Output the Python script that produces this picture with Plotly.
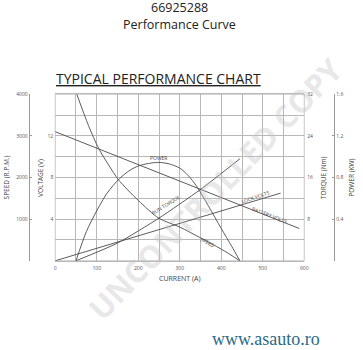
import plotly.graph_objects as go

# ---- data ----
speed_current = [52, 80, 105, 130, 152, 200, 250, 300, 350, 400, 445]
speed_rpm = [4000, 3250, 2690, 2280, 1950, 1450, 1020, 810, 550, 280, 0]

torque_current = [50, 150, 250, 350, 445]
torque_nm = [0, 3.4, 8.2, 13.7, 19.6]

power_current = [50, 75, 100, 125, 155, 180, 200, 225, 250, 275, 300, 320, 340, 370, 400, 425, 445]
power_kw = [0, 0.28, 0.48, 0.65, 0.79, 0.87, 0.91, 0.935, 0.945, 0.93, 0.89, 0.82, 0.72, 0.52, 0.31, 0.14, 0]

battery_current = [0, 588]
battery_volts = [12.4, 3.1]

lock_current = [0, 543]
lock_volts = [0, 6.5]

x_ticks = [0, 100, 200, 300, 400, 500, 600]
speed_ticks = [1000, 2000, 3000, 4000]
volt_ticks = [4, 8, 12]
torque_ticks = [8, 16, 24, 32]
power_ticks = [0.4, 0.8, 1.2, 1.6]

W, H = 363, 350
def px(x):
    return x / W
def py(y):
    return 1 - y / H

LINE = dict(color="#4a4a4a", width=0.9)
GRID = "#b8b8b8"
TICKF = dict(family="Open Sans, sans-serif", size=5, color="#555")

fig = go.Figure()
fig.add_trace(go.Scatter(x=speed_current, y=speed_rpm, yaxis="y", mode="lines",
                         line=dict(shape="spline", smoothing=0.8, **LINE), showlegend=False))
fig.add_trace(go.Scatter(x=battery_current, y=battery_volts, yaxis="y3", mode="lines",
                         line=LINE, showlegend=False))
fig.add_trace(go.Scatter(x=lock_current, y=lock_volts, yaxis="y3", mode="lines",
                         line=LINE, showlegend=False))
fig.add_trace(go.Scatter(x=torque_current, y=torque_nm, yaxis="y4", mode="lines",
                         line=dict(shape="spline", smoothing=0.6, **LINE), showlegend=False))
fig.add_trace(go.Scatter(x=power_current, y=power_kw, yaxis="y5", mode="lines",
                         line=dict(shape="spline", smoothing=0.8, **LINE), showlegend=False))

xd = [px(55), px(307.5)]
yd = [py(260), py(92)]

fig.update_layout(
    width=W, height=H, margin=dict(l=0, r=0, t=0, b=0),
    paper_bgcolor="white", plot_bgcolor="white",
    xaxis=dict(domain=xd, range=[0, 600], tickvals=x_ticks, showgrid=True, gridcolor=GRID, gridwidth=0.8,
               minor=dict(dtick=50, showgrid=True, gridcolor=GRID, gridwidth=0.8),
               showline=True, linecolor=GRID, mirror=True, zeroline=False,
               ticks="", tickfont=TICKF, ticklabelstandoff=2),
    yaxis=dict(domain=yd, range=[0, 4000], tickvals=speed_ticks, anchor="free", position=px(28), side="left",
               showgrid=True, gridcolor=GRID, gridwidth=0.8,
               minor=dict(dtick=500, showgrid=True, gridcolor=GRID, gridwidth=0.8),
               showline=True, linecolor="#999", linewidth=0.8,
               ticks="inside", ticklen=2, tickcolor="#999", tickfont=TICKF, zeroline=False),
    yaxis3=dict(overlaying="y", anchor="x", side="left", range=[0, 16], tickvals=volt_ticks,
                showgrid=False, showline=False, ticks="", tickfont=TICKF, zeroline=False, ticklabelstandoff=1),
    yaxis4=dict(overlaying="y", anchor="x", side="right", range=[0, 32], tickvals=torque_ticks,
                showgrid=False, showline=False, ticks="", tickfont=TICKF, zeroline=False, ticklabelstandoff=2),
    yaxis5=dict(overlaying="y", anchor="free", position=px(338), side="right", range=[0, 1.6],
                tickvals=power_ticks, showgrid=False, showline=True, linecolor="#999", linewidth=0.8,
                ticks="inside", ticklen=2, tickcolor="#999", tickfont=TICKF, zeroline=False),
    shapes=[dict(type="rect", xref="paper", yref="paper", x0=xd[0], x1=xd[1], y0=yd[0], y1=yd[1],
                 line=dict(color=GRID, width=0.8), layer="below")],
)

ann = []
def A(text, x, y, size=6, angle=0, color="#444", family="Open Sans, sans-serif", **kw):
    ann.append(dict(text=text, x=px(x), y=py(y), xref="paper", yref="paper", showarrow=False,
                    xanchor="center", yanchor="middle",
                    textangle=angle, font=dict(size=size, color=color, family=family), **kw))

# watermark
A("<b>UNCONTROLLED COPY</b>", 218, 187, size=31, angle=-46, color="rgba(195,195,195,0.4)")

A("66925288", 181, 5, size=12.5, color="#222")
A("Performance Curve", 181, 22, size=12.5, color="#222")
A("<u>TYPICAL PERFORMANCE CHART</u>", 160, 76, size=14, color="#222")

A("SPEED (R.P.M.)", 6, 176, size=6.5, angle=-90)
A("VOLTAGE (V)", 40, 176, size=6.5, angle=-90)
A("TORQUE (Nm)", 327, 176, size=6.5, angle=-90)
A("POWER (KW)", 355, 176, size=6.5, angle=-90)
A("CURRENT (A)", 182, 278, size=7)

A("POWER", 160, 156, size=5)
A("RUN TORQUE", 167, 204, size=5, angle=-32)
A("SPEED", 209, 241, size=5, angle=28)
A("LOCK VOLTS", 258, 196, size=5, angle=-19)
A("BATTERY VOLTS", 272, 214, size=5, angle=21)

A("www.asauto.ro", 269, 339, size=18, color="#2b6a86", family="Liberation Serif, serif")

fig.update_layout(annotations=ann)
fig.write_html("out.html")
